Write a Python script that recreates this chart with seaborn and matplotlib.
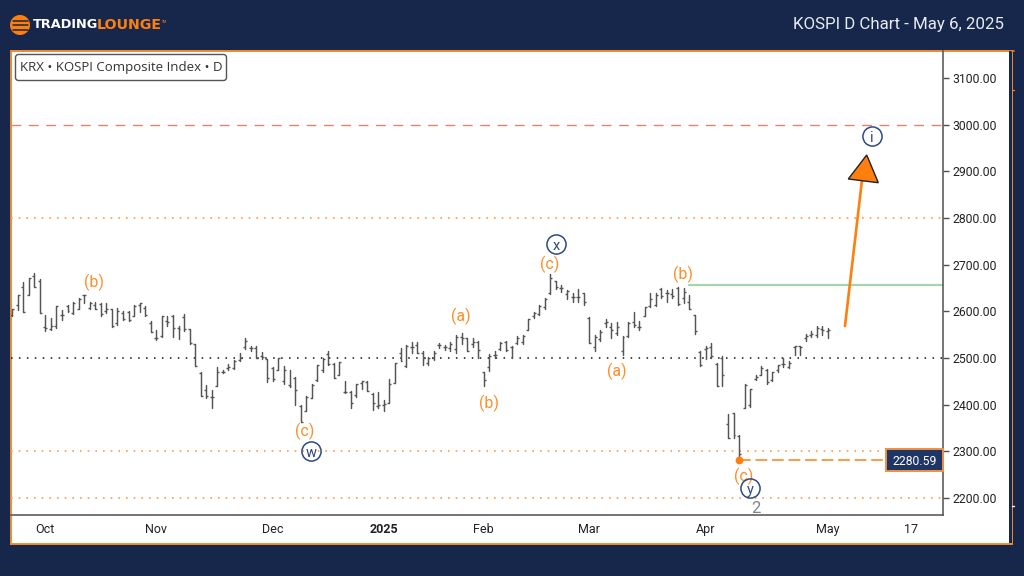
import matplotlib
matplotlib.use("Agg")
import matplotlib.pyplot as plt
from matplotlib.patches import Rectangle, Circle, Polygon, FancyBboxPatch
import pandas as pd
import seaborn as sns

# daily bars
opens = [2593,2614,2652,2634,2676,2666,2566,2562,2569,2593,2611,2596,2605,2634,2607,2614,2616,2600,2604,2574,
         2596,2598,2591,2614,2607,2576,2543,2548,2579,2591,2564,2588,2562,2529,2468,2431,2416,2439,2471,2479,
         2479,2495,2524,2521,2521,2504,2498,2479,2474,2450,2443,2457,2398,2386,2414,2452,2474,2509,2488,2464,
         2428,2428,2421,2447,2449,2423,2397,2399,2404,2447,2511,2483,2524,2528,2510,2489,2499,2528,2523,2521,
         2519,2546,2542,2530,2535,2469,2480,2506,2519,2535,2523,2533,2535,2559,2589,2594,2609,2639,2664,2651,
         2637,2631,2631,2639,2585,2523,2540,2576,2566,2554,2516,2547,2578,2566,2590,2611,2614,2647,2640,2637,
         2651,2629,2621,2593,2512,2519,2524,2488,2500,2359,2382,2332,2393,2400,2455,2464,2475,2452,2474,2488,
         2481,2524,2526,2543,2550,2550,2562,2557]
highs = [2604,2634,2662,2671,2682,2669,2593,2586,2612,2602,2614,2621,2629,2636,2621,2621,2618,2618,2605,2607,
         2600,2600,2614,2618,2611,2579,2561,2591,2591,2593,2568,2595,2562,2531,2471,2443,2432,2481,2474,2488,
         2496,2511,2543,2526,2526,2512,2498,2481,2500,2482,2474,2459,2400,2418,2445,2486,2500,2516,2489,2491,
         2451,2430,2444,2451,2451,2424,2428,2411,2454,2489,2521,2528,2535,2535,2514,2503,2514,2533,2528,2535,
         2549,2553,2542,2542,2537,2469,2509,2514,2535,2537,2526,2547,2549,2583,2599,2614,2628,2680,2666,2656,
         2646,2640,2647,2640,2587,2549,2561,2583,2574,2578,2547,2578,2599,2580,2610,2639,2639,2649,2646,2647,
         2653,2650,2634,2593,2514,2526,2532,2489,2505,2381,2382,2336,2445,2434,2464,2482,2476,2471,2486,2500,
         2493,2526,2526,2552,2557,2569,2569,2564]
lows = [2589,2602,2598,2634,2652,2596,2557,2559,2564,2582,2598,2595,2604,2618,2604,2604,2589,2596,2566,2571,
        2581,2579,2589,2598,2589,2555,2538,2545,2568,2546,2541,2557,2529,2482,2418,2414,2393,2439,2468,2474,
        2476,2493,2519,2514,2500,2498,2448,2450,2474,2445,2438,2399,2363,2386,2414,2450,2471,2484,2457,2464,
        2424,2392,2416,2433,2430,2389,2392,2387,2404,2447,2494,2481,2511,2510,2485,2485,2496,2521,2517,2516,
        2510,2531,2516,2524,2499,2439,2473,2499,2517,2514,2499,2530,2530,2559,2585,2592,2606,2637,2647,2642,
        2626,2621,2621,2614,2533,2514,2537,2567,2542,2549,2506,2544,2567,2561,2589,2609,2611,2628,2619,2628,
        2614,2618,2605,2552,2482,2498,2500,2439,2439,2329,2329,2281,2393,2396,2452,2464,2445,2450,2471,2481,
        2479,2507,2507,2536,2545,2545,2550,2543]
closes = [2604,2634,2598,2671,2652,2596,2564,2569,2612,2593,2600,2618,2626,2634,2618,2605,2595,2604,2569,2600,
          2584,2582,2611,2618,2593,2555,2543,2589,2577,2564,2562,2562,2532,2482,2419,2419,2416,2469,2470,2481,
          2493,2500,2536,2521,2500,2502,2457,2455,2499,2475,2441,2431,2363,2416,2443,2484,2498,2488,2457,2491,
          2428,2403,2444,2451,2430,2403,2399,2401,2444,2489,2494,2526,2524,2511,2499,2499,2511,2528,2523,2531,
          2544,2542,2516,2535,2517,2453,2504,2506,2533,2517,2524,2542,2547,2583,2596,2611,2626,2671,2653,2651,
          2644,2631,2631,2621,2533,2546,2556,2578,2560,2567,2544,2576,2571,2566,2609,2626,2635,2633,2639,2633,
          2616,2641,2605,2557,2484,2521,2504,2441,2464,2329,2336,2295,2443,2434,2459,2479,2448,2469,2484,2488,
          2489,2526,2524,2548,2552,2564,2561,2561]

price_ticks = [2200, 2300, 2400, 2500, 2600, 2700, 2800, 2900, 3000, 3100]
date_pos = [6, 26, 47, 67, 85, 104, 125, 147, 162]
date_labels = ["Oct", "Nov", "Dec", "2025", "Feb", "Mar", "Apr", "May", "17"]

orange_levels = [2200, 2300, 2800]
last_low = 2280.59
green_level = 2656

NAVY = "#16274b"
ORANGE = "#ff7f0e"
WAVE = "#ff8c26"
CIRCLE = "#2f4a80"
BAR = "#555555"

PX_PER_BAR = 5.55


def bar_x(px):
    return (px - 12) / PX_PER_BAR


def price_y(py):
    return 2200 + (498 - py) / 0.4667


sns.set_theme(style="white")
plt.rcParams["font.family"] = ["Roboto", "DejaVu Sans"]

fig = plt.figure(figsize=(10.24, 5.76), dpi=100, facecolor=NAVY)

# page background, header and frame are laid out in pixels
bg = fig.add_axes([0, 0, 1, 1], zorder=0)
bg.set_xlim(0, 1024)
bg.set_ylim(576, 0)
bg.axis("off")
bg.add_patch(Rectangle((10.5, 50.5), 1001, 493, fc="white", ec="#f28a30", lw=1.4))
bg.add_patch(Rectangle((1009, 51), 2.5, 492, fc=NAVY, ec="none"))
bg.plot([1011.5, 1014], [50.5, 50.5], color=ORANGE, lw=1.2)
bg.plot([1012, 1014], [90, 90], color=ORANGE, lw=1)
bg.plot([1012, 1014], [506, 506], color="white", lw=1)

bg.add_patch(Circle((20, 25), 10, fc=ORANGE, ec="none"))
for yy in [20.5, 25, 29.5]:
    bg.plot([12.5, 27.5], [yy, yy], color=NAVY, lw=1.1)
bg.text(33, 25, "TRADING", color="white", fontsize=9.3, fontweight="bold",
        family="DejaVu Sans", va="center", ha="left")
bg.text(97, 25, "LOUNGE", color=ORANGE, fontsize=10.2, fontweight="bold",
        family="DejaVu Sans", va="center", ha="left")
bg.text(162, 22, "TM", color=ORANGE, fontsize=2.5, va="center", ha="left")
bg.text(1004, 24, "KOSPI D Chart - May 6, 2025", color="#e8ebf0", fontsize=12.2,
        va="center", ha="right")

# price chart
ax = fig.add_axes([11 / 1024, 1 - 515 / 576, 932 / 1024, 464 / 576], zorder=1)
ax.patch.set_alpha(0)

bars = list(range(len(opens)))
stems = pd.DataFrame({"bar": bars + bars, "price": highs + lows})
sns.lineplot(data=stems, x="bar", y="price", units="bar", estimator=None, sort=False,
             color=BAR, lw=1.05, ax=ax, zorder=3)
ax.hlines(opens, [b - 0.36 for b in bars], bars, color=BAR, lw=1, zorder=3)
ax.hlines(closes, bars, [b + 0.36 for b in bars], color=BAR, lw=1, zorder=3)

ax.set_xlim(bar_x(11), bar_x(943))
ax.set_ylim(price_y(515), price_y(51))

ax.axhline(3000, color="#e8806f", lw=1, dashes=(7, 5.5), zorder=1)
ax.axhline(2500, color="#111111", lw=1.1, dashes=(1, 4.2), zorder=1)
for lvl in orange_levels:
    ax.axhline(lvl, color="#ff9a45", lw=1.2, dashes=(1, 3.6), zorder=1)
ax.plot([bar_x(689), bar_x(943)], [green_level, green_level], color="#a7d5a9", lw=1.6, zorder=2)

# last low marker and price tag
ax.plot([bar_x(739), bar_x(886)], [last_low, last_low], color="#ff9a45", lw=1.4, dashes=(6, 2.5), zorder=2)
ax.plot(bar_x(739), last_low, "o", color=ORANGE, ms=4.6, zorder=4)
ax.add_patch(Rectangle((bar_x(886), price_y(471)), bar_x(943) - bar_x(886), price_y(449.5) - price_y(471),
                       fc="#1f3566", ec="#f0913f", lw=1.4, zorder=5, clip_on=False))
ax.text(bar_x(915), last_low, f"{last_low:.2f}", color="white", fontsize=8.8,
        ha="center", va="center_baseline", zorder=6)

# target arrow
ax.plot([bar_x(845), bar_x(862)], [price_y(326), price_y(180)], color=ORANGE, lw=1.9, zorder=3)
ax.add_patch(Polygon([(bar_x(866.7), price_y(155)), (bar_x(848.3), price_y(179)), (bar_x(878.3), price_y(182.7))],
                     fc=ORANGE, ec="#222222", lw=1, zorder=4))

# wave labels
for lab, px, py in [("(b)", 94, 280), ("(c)", 305, 429.5), ("(a)", 461, 314), ("(b)", 489, 401),
                    ("(c)", 550, 262), ("(a)", 617, 369), ("(b)", 683, 272), ("(c)", 744, 474)]:
    ax.text(bar_x(px), price_y(py), lab, color=WAVE, fontsize=11.4, ha="center", va="center_baseline", zorder=5)
for lab, px, py in [("w", 311, 451), ("x", 556, 244), ("y", 750, 488), ("i", 872, 136)]:
    ax.plot(bar_x(px), price_y(py), "o", mfc="none", mec=CIRCLE, mew=1.1, ms=13.8, zorder=6)
    ax.text(bar_x(px), price_y(py + 0.8), lab, color=CIRCLE, fontsize=10.5, ha="center", va="center_baseline", zorder=6)
ax.text(bar_x(756), price_y(507), "2", color="#7b8494", fontsize=12, ha="center", va="center_baseline", zorder=5)

sns.despine(ax=ax, left=True, top=True, right=False, bottom=False)
for side in ["right", "bottom"]:
    ax.spines[side].set_color("#505050")
    ax.spines[side].set_linewidth(1.1)

ax.yaxis.tick_right()
ax.set_yticks(price_ticks)
ax.set_yticklabels([f"{p:.2f}" for p in price_ticks])
ax.tick_params(axis="y", right=True, length=4.5, width=1, color="#505050", labelsize=8.8,
               labelcolor="#222222", pad=2)
ax.set_xticks(date_pos)
ax.set_xticklabels(date_labels)
ax.tick_params(axis="x", bottom=False, labelsize=9, labelcolor="#222222", pad=-0.5)
ax.get_xticklabels()[3].set_fontweight("bold")
ax.set_xlabel("")
ax.set_ylabel("")

# symbol box sits on top of the chart
top = fig.add_axes([0, 0, 1, 1], zorder=2)
top.set_xlim(0, 1024)
top.set_ylim(576, 0)
top.axis("off")
top.add_patch(FancyBboxPatch((18, 57), 206, 21, boxstyle="round,pad=2.5,rounding_size=3",
                             fc="white", ec="#555555", lw=1))
top.text(20.5, 68, "KRX \u2022 KOSPI Composite Index \u2022 D", color="#333333", fontsize=9.5,
         family="Open Sans", va="center", ha="left")

fig.savefig("out.png", dpi=100, facecolor=NAVY)
